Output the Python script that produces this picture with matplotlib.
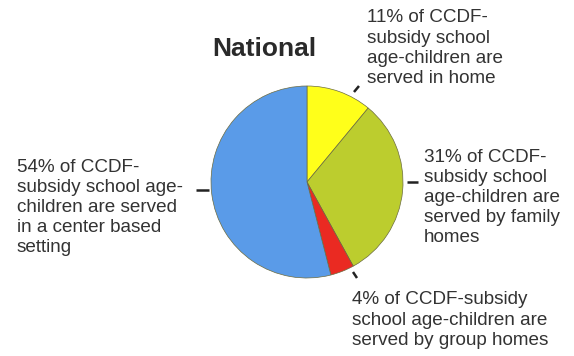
import matplotlib.pyplot as plt

plt.rcParams['font.family'] = ['Liberation Sans', 'DejaVu Sans']

# shares, clockwise from 12 o'clock
labels = ['In home', 'Family homes', 'Group homes', 'Center based']
shares = [11, 31, 4, 54]
colors = ['#ffff1a', '#bccd2e', '#ea2a22', '#5a9be8']

notes = [
    "11% of CCDF-\nsubsidy school\nage-children are\nserved in home",
    "31% of CCDF-\nsubsidy school\nage-children are\nserved by family\nhomes",
    "4% of CCDF-subsidy\nschool age-children are\nserved by group homes",
    "54% of CCDF-\nsubsidy school age-\nchildren are served\nin a center based\nsetting",
]

W, H = 574, 356
fig = plt.figure(figsize=(W / 100, H / 100), dpi=100)
ax = fig.add_axes([0, 0, 1, 1])

# work in pixel coords, y pointing up
cx, cy, r = 307, H - 182, 96
ax.pie(shares, colors=colors, startangle=90, counterclock=False,
       center=(cx, cy), radius=r, frame=True,
       wedgeprops=dict(edgecolor='#6b6b40', linewidth=0.5))
ax.set_xlim(0, W)
ax.set_ylim(0, H)
ax.set_aspect('equal')
ax.axis('off')

ax.text(212, H - 49, 'National', fontsize=19, fontweight='bold',
        color='#2a2a2a', va='center', ha='left')

# text blocks (left, top) and leader ticks
txt_pos = [(367, 9.5), (424, 148.5), (352, 291.5), (17, 158.5)]
ticks = [((354, 92), (359, 86)), ((407, 182), (418, 182)),
         ((353, 272), (357, 278)), ((196, 190), (209, 190))]

for note, (tx, ty), (p0, p1) in zip(notes, txt_pos, ticks):
    ax.text(tx, H - ty, note, fontsize=13.6, color='#333333',
            ha='left', va='top', linespacing=1.24)
    ax.plot([p0[0], p1[0]], [H - p0[1], H - p1[1]], color='#222222',
            lw=1.8, solid_capstyle='butt')

fig.savefig('out.png', dpi=100)
